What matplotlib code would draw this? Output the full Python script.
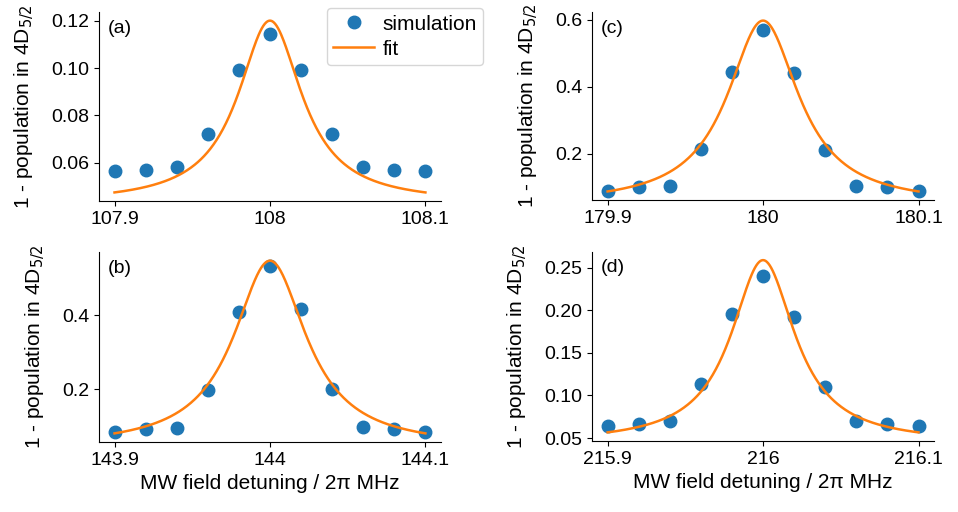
import numpy as np
import matplotlib
matplotlib.use("Agg")
import matplotlib.pyplot as plt

plt.rcParams["font.family"] = ["Liberation Sans", "DejaVu Sans"]
plt.rcParams["font.size"] = 14
plt.rcParams["axes.labelsize"] = 15
plt.rcParams["legend.fontsize"] = 15

# detuning steps around each resonance (MHz)
offsets = [-0.1, -0.08, -0.06, -0.04, -0.02, 0.0, 0.02, 0.04, 0.06, 0.08, 0.1]

# resonance centres for panels (a)-(d)
center_a = 108
center_b = 144
center_c = 180
center_d = 216

# simulated 1 - population values
sim_a = [0.0565, 0.0572, 0.0582, 0.0723, 0.0992, 0.1142, 0.0992, 0.0723, 0.0582, 0.0572, 0.0565]
sim_b = [0.085, 0.092, 0.096, 0.197, 0.410, 0.533, 0.416, 0.202, 0.097, 0.092, 0.085]
sim_c = [0.089, 0.099, 0.104, 0.214, 0.443, 0.570, 0.441, 0.210, 0.104, 0.099, 0.089]
sim_d = [0.0645, 0.0669, 0.0696, 0.1131, 0.1955, 0.2398, 0.1924, 0.1096, 0.0696, 0.0669, 0.0645]

# Lorentzian fit parameters: (offset, amplitude, half width)
fit_a = (0.043, 0.077, 0.025)
fit_b = (0.043, 0.505, 0.0285)
fit_c = (0.047, 0.55, 0.028)
fit_d = (0.044, 0.215, 0.025)

yticks_a = [0.06, 0.08, 0.10, 0.12]
yticks_b = [0.2, 0.4]
yticks_c = [0.2, 0.4, 0.6]
yticks_d = [0.05, 0.10, 0.15, 0.20, 0.25]
ytick_fmt = {"a": "{:.2f}", "b": "{:.1f}", "c": "{:.1f}", "d": "{:.2f}"}


def lorentzian(x, x0, c, a, g):
    return c + a / (1 + ((x - x0) / g) ** 2)


fig = plt.figure(figsize=(9.58, 5.12), dpi=100)
positions = {
    "a": [0.1033, 0.6074, 0.357, 0.369],
    "b": [0.1033, 0.1367, 0.357, 0.371],
    "c": [0.618, 0.6094, 0.357, 0.367],
    "d": [0.618, 0.1387, 0.357, 0.370],
}
panels = {
    "a": (center_a, sim_a, fit_a, yticks_a),
    "b": (center_b, sim_b, fit_b, yticks_b),
    "c": (center_c, sim_c, fit_c, yticks_c),
    "d": (center_d, sim_d, fit_d, yticks_d),
}

axes = {}
for key, (x0, sim, fit, yticks) in panels.items():
    ax = fig.add_axes(positions[key])
    axes[key] = ax
    x = x0 + np.array(offsets)
    xf = np.linspace(x[0], x[-1], 400)
    ax.plot(x, sim, "o", color="#1f77b4", markersize=9, label="simulation")
    ax.plot(xf, lorentzian(xf, x0, *fit), color="#ff7f0e", lw=1.8, label="fit")
    ax.spines["top"].set_visible(False)
    ax.spines["right"].set_visible(False)
    xt = [x0 - 0.1, x0, x0 + 0.1]
    ax.set_xticks(xt)
    ax.set_xticklabels(["{:g}".format(round(v, 1)) for v in xt])
    ax.set_yticks(yticks)
    ax.set_yticklabels([ytick_fmt[key].format(v) for v in yticks])
    ax.set_ylabel(r"1 - population in 4D$_{5/2}$", labelpad=11)
    ax.text(0.025, 0.96, "(%s)" % key, transform=ax.transAxes, va="top", ha="left")
    if key in ("b", "d"):
        ax.set_xlabel("MW field detuning / 2π MHz")
    if key == "a":
        ax.legend(loc="upper right", bbox_to_anchor=(0.509, 0.992),
                  bbox_transform=fig.transFigure, borderaxespad=0.2,
                  handletextpad=0.4, borderpad=0.3, labelspacing=0.3)

fig.align_ylabels([axes["a"], axes["b"]])
fig.align_ylabels([axes["c"], axes["d"]])
fig.savefig("out.png", dpi=100)
